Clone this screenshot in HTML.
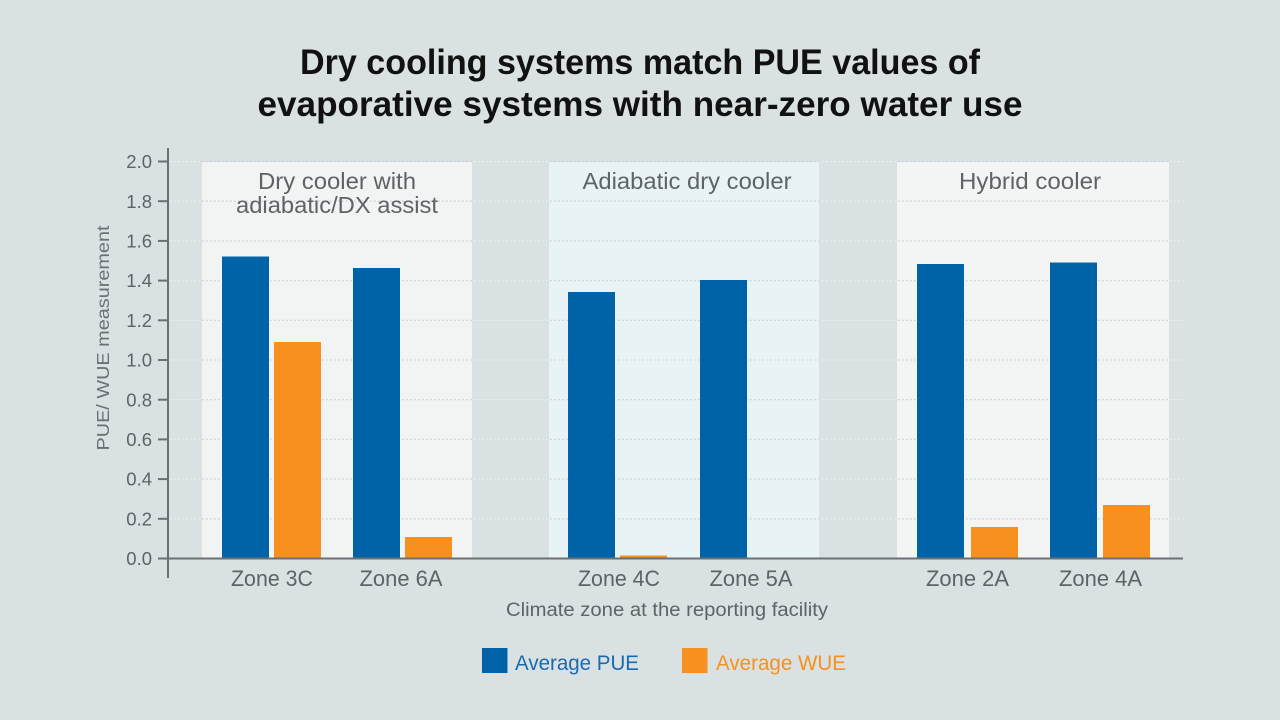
<!DOCTYPE html>
<html><head><meta charset="utf-8"><style>
html,body{margin:0;padding:0;background:#d9e1e3;}
svg{display:block;}
text{font-family:"Liberation Sans Narrow","Liberation Sans",sans-serif;}
</style></head><body>
<svg width="1280" height="720" viewBox="0 0 1280 720" xmlns="http://www.w3.org/2000/svg">
<rect x="0" y="0" width="1280" height="720" fill="#d9e1e3"/>
<!-- Title -->
<text x="640" y="74" text-anchor="middle" font-size="35" font-weight="bold" fill="#111" textLength="680" lengthAdjust="spacingAndGlyphs">Dry cooling systems match PUE values of</text>
<text x="640" y="116" text-anchor="middle" font-size="35" font-weight="bold" fill="#111" textLength="765" lengthAdjust="spacingAndGlyphs">evaporative systems with near-zero water use</text>

<!-- light gridlines on background -->
<g stroke="#eef1f2" stroke-width="1.3" stroke-dasharray="1.5,2.5">
<line x1="170" y1="161.5" x2="1185" y2="161.5"/>
<line x1="170" y1="201.2" x2="1185" y2="201.2"/>
<line x1="170" y1="240.9" x2="1185" y2="240.9"/>
<line x1="170" y1="280.6" x2="1185" y2="280.6"/>
<line x1="170" y1="320.3" x2="1185" y2="320.3"/>
<line x1="170" y1="360" x2="1185" y2="360"/>
<line x1="170" y1="399.7" x2="1185" y2="399.7"/>
<line x1="170" y1="439.4" x2="1185" y2="439.4"/>
<line x1="170" y1="479.1" x2="1185" y2="479.1"/>
<line x1="170" y1="518.8" x2="1185" y2="518.8"/>
</g>

<!-- panels -->
<rect x="202" y="162" width="270" height="396" fill="#f2f4f4"/>
<rect x="549" y="162" width="270" height="396" fill="#e7f3f4"/>
<rect x="897" y="162" width="272" height="396" fill="#f3f5f5"/>

<defs>
<clipPath id="pc">
<rect x="202" y="150" width="270" height="410"/>
<rect x="549" y="150" width="270" height="410"/>
<rect x="897" y="150" width="272" height="410"/>
</clipPath>
</defs>
<g stroke="#c8ced1" stroke-width="1.3" stroke-dasharray="1.5,2.5" clip-path="url(#pc)">
<line x1="170" y1="161.5" x2="1185" y2="161.5"/>
<line x1="170" y1="201.2" x2="1185" y2="201.2"/>
<line x1="170" y1="240.9" x2="1185" y2="240.9"/>
<line x1="170" y1="280.6" x2="1185" y2="280.6"/>
<line x1="170" y1="320.3" x2="1185" y2="320.3"/>
<line x1="170" y1="360" x2="1185" y2="360"/>
<line x1="170" y1="399.7" x2="1185" y2="399.7"/>
<line x1="170" y1="439.4" x2="1185" y2="439.4"/>
<line x1="170" y1="479.1" x2="1185" y2="479.1"/>
<line x1="170" y1="518.8" x2="1185" y2="518.8"/>
</g>

<!-- panel titles -->
<g font-size="23" fill="#5e6366" text-anchor="middle">
<text x="337" y="189" textLength="158" lengthAdjust="spacingAndGlyphs">Dry cooler with</text>
<text x="337" y="213" textLength="202" lengthAdjust="spacingAndGlyphs">adiabatic/DX assist</text>
<text x="687" y="189" textLength="209" lengthAdjust="spacingAndGlyphs">Adiabatic dry cooler</text>
<text x="1030" y="189" textLength="142" lengthAdjust="spacingAndGlyphs">Hybrid cooler</text>
</g>

<!-- bars -->
<g fill="#0063a8">
<rect x="222" y="256.5" width="47" height="301.5"/>
<rect x="353" y="268" width="47" height="290"/>
<rect x="568" y="292" width="47" height="266"/>
<rect x="700" y="280" width="47" height="278"/>
<rect x="917" y="264" width="47" height="294"/>
<rect x="1050" y="262.5" width="47" height="295.5"/>
</g>
<g fill="#f7901e">
<rect x="274" y="342" width="47" height="216"/>
<rect x="405" y="537" width="47" height="21"/>
<rect x="620" y="555.5" width="47" height="2.5"/>
<rect x="971" y="527" width="47" height="31"/>
<rect x="1103" y="505" width="47" height="53"/>
</g>

<!-- axes -->
<g stroke="#6b7073" stroke-width="2">
<line x1="168" y1="148" x2="168" y2="578"/>
<line x1="167" y1="558.5" x2="1183" y2="558.5"/>
<line x1="158" y1="161.5" x2="168" y2="161.5"/>
<line x1="158" y1="201.2" x2="168" y2="201.2"/>
<line x1="158" y1="240.9" x2="168" y2="240.9"/>
<line x1="158" y1="280.6" x2="168" y2="280.6"/>
<line x1="158" y1="320.3" x2="168" y2="320.3"/>
<line x1="158" y1="360" x2="168" y2="360"/>
<line x1="158" y1="399.7" x2="168" y2="399.7"/>
<line x1="158" y1="439.4" x2="168" y2="439.4"/>
<line x1="158" y1="479.1" x2="168" y2="479.1"/>
<line x1="158" y1="518.8" x2="168" y2="518.8"/>
<line x1="158" y1="558.5" x2="168" y2="558.5"/>
</g>

<!-- tick labels -->
<g font-size="18.5" fill="#5e6366" text-anchor="end">
<text x="152" y="168">2.0</text>
<text x="152" y="208">1.8</text>
<text x="152" y="247.5">1.6</text>
<text x="152" y="287">1.4</text>
<text x="152" y="327">1.2</text>
<text x="152" y="366.5">1.0</text>
<text x="152" y="406.5">0.8</text>
<text x="152" y="446">0.6</text>
<text x="152" y="485.7">0.4</text>
<text x="152" y="525.5">0.2</text>
<text x="152" y="565">0.0</text>
</g>

<!-- y-axis title -->
<text transform="translate(109,338) rotate(-90)" font-size="17.5" fill="#6b7073" text-anchor="middle" textLength="225" lengthAdjust="spacingAndGlyphs">PUE/ WUE measurement</text>

<!-- zone labels -->
<g font-size="22" fill="#5e6366" text-anchor="middle">
<text x="272" y="586" textLength="82" lengthAdjust="spacingAndGlyphs">Zone 3C</text>
<text x="401" y="586" textLength="83" lengthAdjust="spacingAndGlyphs">Zone 6A</text>
<text x="619" y="586" textLength="82" lengthAdjust="spacingAndGlyphs">Zone 4C</text>
<text x="751" y="586" textLength="83" lengthAdjust="spacingAndGlyphs">Zone 5A</text>
<text x="967.5" y="586" textLength="83" lengthAdjust="spacingAndGlyphs">Zone 2A</text>
<text x="1100.5" y="586" textLength="83" lengthAdjust="spacingAndGlyphs">Zone 4A</text>
</g>

<text x="667" y="616" font-size="19" fill="#5e6366" text-anchor="middle" textLength="322" lengthAdjust="spacingAndGlyphs">Climate zone at the reporting facility</text>

<!-- legend -->
<rect x="482" y="648" width="25.5" height="25" fill="#0063a8"/>
<text x="515" y="670" font-size="21.5" fill="#1a6aae" textLength="124" lengthAdjust="spacingAndGlyphs">Average PUE</text>
<rect x="682" y="648" width="25.5" height="25" fill="#f7901e"/>
<text x="716" y="670" font-size="21.5" fill="#f7901e" textLength="130" lengthAdjust="spacingAndGlyphs">Average WUE</text>
</svg>
</body></html>
